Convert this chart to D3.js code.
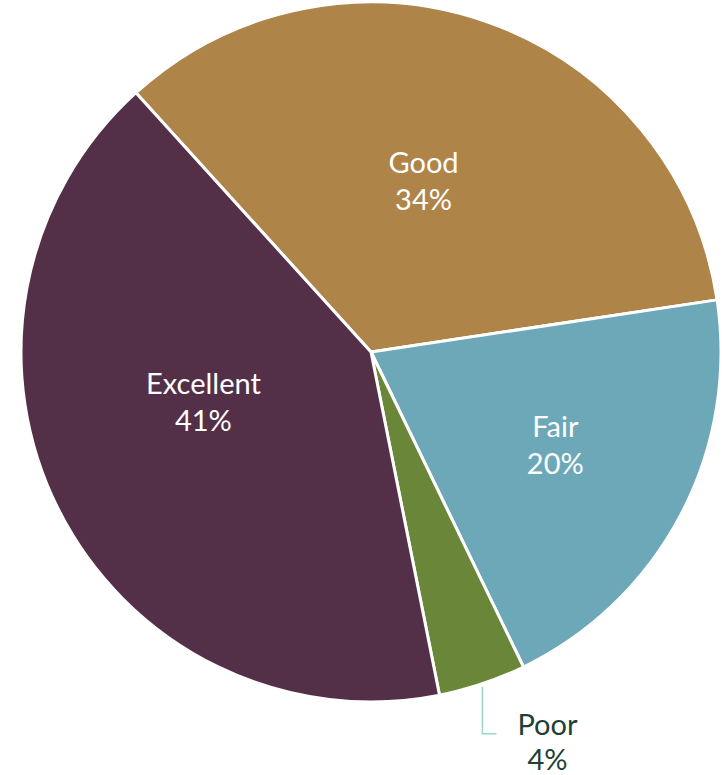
<!DOCTYPE html>
<html>
<head>
<meta charset="utf-8">
<script src="https://cdn.jsdelivr.net/npm/d3@7"></script>
<style>
  html, body { margin: 0; padding: 0; background: #fff; }
  svg { display: block; }
</style>
</head>
<body>
<svg id="chart"></svg>
<script>
// data
const categories = ["Good", "Fair", "Poor", "Excellent"];
const shares = [34, 20, 4, 41];
const colors = ["#ae8449", "#6ca8b7", "#6a8638", "#533048"];

const width = 723, height = 775;
const cx = 371, cy = 352, radius = 350;
const startDeg = -42.2; // first slice rotation

const svg = d3.select("#chart").attr("width", width).attr("height", height);
const g = svg.append("g").attr("transform", `translate(${cx},${cy})`);

const pie = d3.pie()
  .sort(null)
  .value(d => d.value)
  .startAngle(startDeg * Math.PI / 180)
  .endAngle(startDeg * Math.PI / 180 + 2 * Math.PI);

const rows = categories.map((c, i) => ({ name: c, value: shares[i], color: colors[i] }));
const arcs = pie(rows);

const arc = d3.arc().innerRadius(0).outerRadius(radius);

g.selectAll("path")
  .data(arcs)
  .join("path")
  .attr("d", arc)
  .attr("fill", d => d.data.color)
  .attr("stroke", "#fff")
  .style("stroke-width", "3px")
  .style("stroke-linejoin", "round");

// label placement tweaks (radius factor, angle nudge in degrees)
const labelPos = {
  Good: { r: 0.51, da: -2.5 },
  Fair: { r: 0.59, da: -1 },
  Excellent: { r: 0.5, da: 10 },
};

const fontFamily = "Lato, 'Open Sans', sans-serif";
const fontSize = 29;

arcs.forEach(d => {
  const name = d.data.name;
  const pct = d.data.value + "%";
  if (labelPos[name]) {
    const p = labelPos[name];
    const a = (d.startAngle + d.endAngle) / 2 + p.da * Math.PI / 180;
    const x = Math.sin(a) * radius * p.r;
    const y = -Math.cos(a) * radius * p.r;
    const t = g.append("text")
      .attr("text-anchor", "middle")
      .style("font-family", fontFamily)
      .style("font-size", fontSize + "px")
      .style("fill", "#fff");
    t.append("tspan").attr("x", x).attr("y", y - 8).text(name);
    t.append("tspan").attr("x", x).attr("y", y + 29).text(pct);
  } else {
    // outside label with leader line
    const a = (d.startAngle + d.endAngle) / 2;
    const x0 = Math.sin(a) * radius;
    const y0 = -Math.cos(a) * radius;
    const y1 = y0 + 50;
    g.append("path")
      .attr("d", `M${x0},${y0 + 3}V${y1}H${x0 + 14}`)
      .attr("fill", "none")
      .attr("stroke", "#9fd4c9")
      .attr("stroke-width", 1.5);
    const tx = x0 + 65;
    const t = g.append("text")
      .attr("text-anchor", "middle")
      .style("font-family", fontFamily)
      .style("font-size", fontSize + "px")
      .style("fill", "#1e3f36");
    t.append("tspan").attr("x", tx).attr("y", y1 + 1).text(name);
    t.append("tspan").attr("x", tx).attr("y", y1 + 36).text(pct);
  }
});
</script>
</body>
</html>
